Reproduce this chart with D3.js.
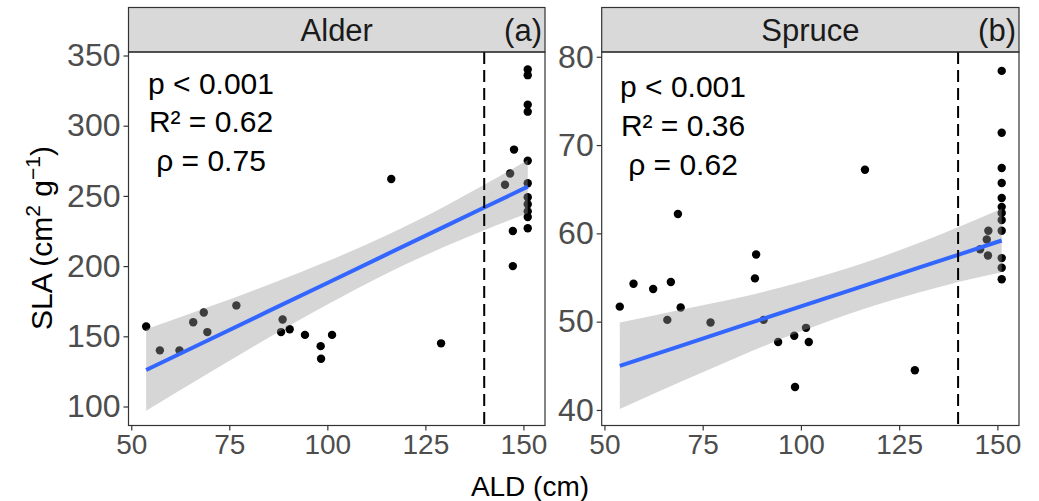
<!DOCTYPE html>
<html>
<head>
<meta charset="utf-8">
<script src="https://cdn.jsdelivr.net/npm/d3@7"></script>
<style>
  body { margin: 0; background: #fff; }
  svg { display: block; font-family: "Liberation Sans", Arial, sans-serif; }
</style>
</head>
<body>
<svg id="chart" width="1039" height="501"></svg>
<script>

// ---- data ----
var alderALD = [53.8, 57.3, 62.3, 65.8, 68.5, 69.4, 76.8, 88.6, 88.2, 90.4, 94.3, 98.3, 98.4, 101.2,
  116.3, 129, 145.3, 146.6, 147.6, 147.3, 147.3,
  151.1, 151.1, 151.1, 151.1, 151.1, 151.1, 151.1, 151.1, 151.1, 151.1, 151.1];
var alderSLA = [157, 140, 140, 160, 167, 153, 172, 162, 153, 155, 151, 143, 134, 151,
  262, 145, 258, 266, 283, 225, 200,
  340, 336, 315, 310, 275, 259, 249, 244, 239, 235, 227];

var spruceALD = [53.9, 57.4, 62.4, 66.9, 66, 68.7, 69.4, 77, 88.3, 88.6, 90.5, 94.2, 98.3, 98.5,
  101.3, 102, 116.3, 129, 145.6, 147.3, 147.7, 147.6,
  151.1, 151.1, 151.1, 151.1, 151.1, 151.1, 151.1, 151.1, 151.1, 151.1, 151.1, 151.1];
var spruceSLA = [51.7, 54.3, 53.7, 54.5, 50.2, 62.2, 51.6, 49.9, 54.9, 57.6, 50.2, 47.7, 48.4, 42.6,
  49.3, 47.7, 67.2, 44.5, 58.2, 59.3, 60.3, 57.5,
  78.4, 71.4, 67.4, 65.7, 64, 63, 62.3, 61.5, 60.3, 57.2, 56.1, 54.8];

// fitted line and 95% band
var fitALD = [53.8, 70, 85, 100, 115, 130, 140, 151.1];
var alderFit = [126, 147.7, 167.9, 188, 208.2, 228.3, 241.7, 256.6];
var alderLo = [97, 124.2, 149, 172.6, 194.6, 213.9, 225.5, 237.7];
var alderHi = [155, 171.2, 186.8, 203.4, 221.8, 242.7, 257.9, 275.5];
var spruceFitALD = [53.9, 70, 85, 100, 115, 130, 140, 151.1];
var spruceFit = [45, 47.35, 49.54, 51.73, 53.92, 56.11, 57.57, 59.19];
var spruceLo = [40.1, 43.3, 46.2, 48.9, 51.3, 53.3, 54.5, 55.6];
var spruceHi = [49.9, 51.4, 52.8, 54.5, 56.5, 58.9, 60.7, 62.8];

var xTicks = [50, 75, 100, 125, 150];
var alderTicks = [100, 150, 200, 250, 300, 350];
var spruceTicks = [40, 50, 60, 70, 80];
var statsAlder = ["p < 0.001", "R² = 0.62", "ρ = 0.75"];
var statsSpruce = ["p < 0.001", "R² = 0.36", "ρ = 0.62"];
var thresholdALD = 140;

var svg = d3.select("#chart");

function drawPanel(p) {
  var x = d3.scaleLinear().domain([49.3, 155.5]).range([p.left, p.right]);
  var y = d3.scaleLinear().domain(p.yDomain).range([425.5, 52]);
  var g = svg.append("g");

  // strip
  g.append("rect").attr("x", p.left).attr("y", 7.5)
    .attr("width", p.right - p.left).attr("height", 44.5)
    .attr("fill", "#d9d9d9").attr("stroke", "#333").attr("stroke-width", 1.2);
  g.append("text").attr("x", (p.left + p.right) / 2).attr("y", 41)
    .attr("text-anchor", "middle").attr("font-size", 31).attr("fill", "#1a1a1a")
    .text(p.name);
  g.append("text").attr("x", p.right - 3).attr("y", 41)
    .attr("text-anchor", "end").attr("font-size", 31).attr("fill", "#1a1a1a")
    .text(p.tag);

  // points (under the ribbon, as in the original)
  g.selectAll("circle").data(p.xs).enter().append("circle")
    .attr("cx", function (d) { return x(d); })
    .attr("cy", function (d, i) { return y(p.ys[i]); })
    .attr("r", 4.2).attr("fill", "#000");

  var band = p.fx.map(function (d, i) {
    return { x: d, fit: p.fit[i], lo: p.lo[i], hi: p.hi[i] };
  });
  g.append("path").datum(band)
    .attr("fill", "#999").attr("fill-opacity", 0.4)
    .attr("d", d3.area().curve(d3.curveMonotoneX)
      .x(function (d) { return x(d.x); })
      .y0(function (d) { return y(d.lo); }).y1(function (d) { return y(d.hi); }));
  g.append("path").datum(band)
    .attr("fill", "none").attr("stroke", "#3366ff").attr("stroke-width", 4)
    .attr("d", d3.line().x(function (d) { return x(d.x); }).y(function (d) { return y(d.fit); }));

  // threshold line
  g.append("line").attr("x1", x(thresholdALD)).attr("x2", x(thresholdALD))
    .attr("y1", 52).attr("y2", 425.5)
    .attr("stroke", "#000").attr("stroke-width", 2).attr("stroke-dasharray", "12,6");

  // stats label
  g.append("text").attr("font-size", 30).attr("fill", "#000").attr("text-anchor", "middle")
    .selectAll("tspan").data(p.stats).enter().append("tspan")
    .attr("x", p.statX).attr("y", function (d, i) { return p.statY[i]; })
    .text(function (d) { return d; });

  // panel border
  g.append("rect").attr("x", p.left).attr("y", 52)
    .attr("width", p.right - p.left).attr("height", 425.5 - 52)
    .attr("fill", "none").attr("stroke", "#333").attr("stroke-width", 1.2);

  // axes
  var xa = g.append("g").attr("transform", "translate(0,425.5)")
    .call(d3.axisBottom(x).tickValues(xTicks).tickSize(5).tickPadding(4));
  var ya = g.append("g").attr("transform", "translate(" + p.left + ",0)")
    .call(d3.axisLeft(y).tickValues(p.yTicks).tickSize(5).tickPadding(3));
  [xa, ya].forEach(function (a) {
    a.select(".domain").remove();
    a.selectAll("line").attr("stroke", "#333").attr("stroke-width", 1.2);
    a.selectAll("text").attr("fill", "#4d4d4d")
      .attr("font-family", "Liberation Sans, Arial, sans-serif");
  });
  xa.selectAll("text").attr("font-size", 28);
  ya.selectAll("text").attr("font-size", 32);
}

drawPanel({
  name: "Alder", tag: "(a)", xs: alderALD, ys: alderSLA,
  fx: fitALD, fit: alderFit, lo: alderLo, hi: alderHi,
  left: 128.5, right: 545, yDomain: [86.47, 352.5], yTicks: alderTicks,
  stats: statsAlder, statX: 211, statY: [94, 132, 171]
});
drawPanel({
  name: "Spruce", tag: "(b)", xs: spruceALD, ys: spruceSLA,
  fx: spruceFitALD, fit: spruceFit, lo: spruceLo, hi: spruceHi,
  left: 601.7, right: 1019, yDomain: [38.24, 80.54], yTicks: spruceTicks,
  stats: statsSpruce, statX: 683, statY: [97, 136, 175]
});

// axis titles
svg.append("text").attr("x", 530).attr("y", 496).attr("text-anchor", "middle")
  .attr("font-size", 28).attr("fill", "#000").text("ALD (cm)");

var yt = svg.append("text").attr("transform", "translate(52,238) rotate(-90)")
  .attr("text-anchor", "middle").attr("font-size", 30).attr("fill", "#000");
yt.append("tspan").text("SLA (cm");
yt.append("tspan").attr("font-size", 21).attr("dy", -12).text("2");
yt.append("tspan").attr("dy", 12).text(" g");
yt.append("tspan").attr("font-size", 21).attr("dy", -12).text("−1");
yt.append("tspan").attr("dy", 12).text(")");

</script>
</body>
</html>
